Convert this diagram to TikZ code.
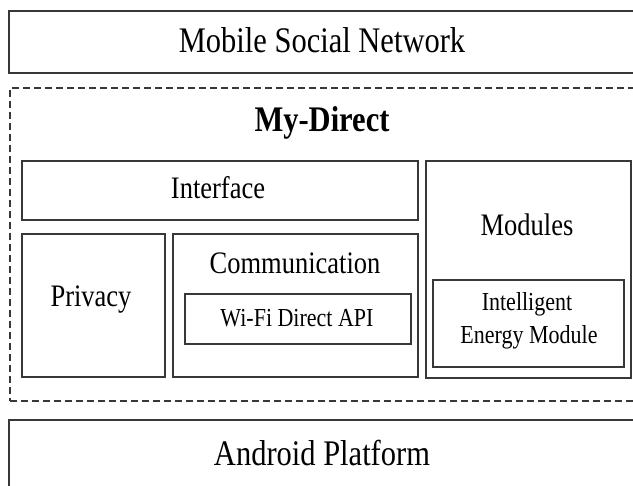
\documentclass[tikz,border=0pt]{standalone}
\usepackage{fontspec}
\setmainfont{Liberation Serif}
\definecolor{edge}{HTML}{383838}
\newcommand{\tallt}[1]{\scalebox{1}[1.18]{#1}}
\tikzset{
  box/.style={draw=edge, line width=1.8pt, inner sep=0pt, anchor=north west},
  dashbox/.style={draw=edge, line width=1.6pt, dash pattern=on 7pt off 4pt, inner sep=0pt, anchor=north west},
  big/.style={font=\fontsize{30.5}{34}\selectfont, text=black},
  mid/.style={font=\fontsize{26.5}{30}\selectfont, text=black},
  small/.style={font=\fontsize{22}{26}\selectfont, text=black, align=center},
}
\begin{document}
\begin{tikzpicture}[x=1pt, y=-1pt]
\clip (0,0) rectangle (633,486);
\fill[white] (0,0) rectangle (633,486);
% outer layers
\node[box, minimum width=640pt, minimum height=62pt] (msn) at (8,10) {};
\node[big] (msnt) at (322,40) {\tallt{Mobile Social Network}};
\node[dashbox, minimum width=640pt, minimum height=313pt] (md) at (9,87) {};
\node[big, font=\fontsize{30.5}{34}\selectfont\bfseries] (mdt) at (322,123) {\tallt{My-Direct}};
\node[box, minimum width=640pt, minimum height=90pt] (ap) at (8,419) {};
\node[big] (apt) at (322,453) {\tallt{Android Platform}};
% inner boxes
\node[box, minimum width=396pt, minimum height=59pt] (intf) at (21,160) {};
\node[mid] (intft) at (218,188) {\tallt{Interface}};
\node[box, minimum width=143pt, minimum height=143pt] (priv) at (21,233) {};
\node[mid] (privt) at (91,300) {\tallt{Privacy}};
\node[box, minimum width=245pt, minimum height=143pt] (comm) at (172,233) {};
\node[mid] (commt) at (295,263) {\tallt{Communication}};
\node[box, minimum width=226pt, minimum height=50pt] (wifi) at (184,293) {};
\node[small] (wifit) at (297,318) {\tallt{Wi-Fi Direct API}};
\node[box, minimum width=205pt, minimum height=217pt] (mods) at (425,160) {};
\node[mid] (modst) at (527,225) {\tallt{Modules}};
\node[box, minimum width=191pt, minimum height=87pt] (iem) at (432,279) {};
\node[small] (iemt1) at (527,304) {\tallt{Intelligent}};
\node[small] (iemt2) at (529,337) {\tallt{Energy Module}};
\end{tikzpicture}
\end{document}
